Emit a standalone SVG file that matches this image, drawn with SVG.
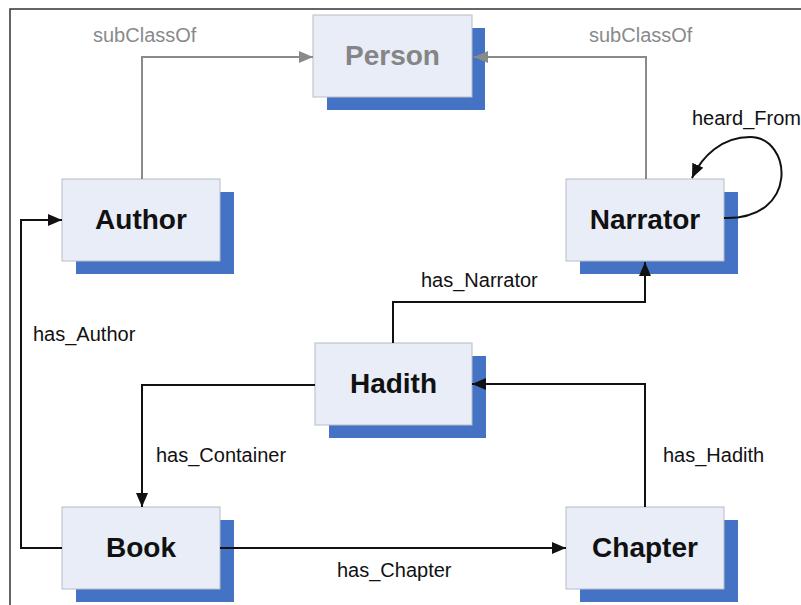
<svg xmlns="http://www.w3.org/2000/svg" width="801" height="605" viewBox="0 0 801 605">
<defs>
<style>
.shadow{fill:#4472c4}
.box{fill:#e8edf7;stroke:#b8bcc4;stroke-width:1}
.lbl{font-family:"Liberation Sans",Arial,sans-serif;font-weight:bold;font-size:28px;fill:#111;text-anchor:middle}
.lbl.gray{fill:#858585}
.edge{fill:none;stroke:#111;stroke-width:2}
.edge.gray{stroke:#8a8a8a}
.elbl{font-family:"Liberation Sans",Arial,sans-serif;font-size:20px;fill:#111}
.elbl.gray{fill:#8a8a8a}
</style>
<marker id="ah" markerUnits="userSpaceOnUse" markerWidth="14" markerHeight="12" refX="14" refY="6" orient="auto">
<path d="M0,0 L14,6 L0,12 z" fill="#111"/>
</marker>
<marker id="ahg" markerUnits="userSpaceOnUse" markerWidth="14" markerHeight="12" refX="14" refY="6" orient="auto">
<path d="M0,0 L14,6 L0,12 z" fill="#8a8a8a"/>
</marker>
</defs>
<rect width="801" height="605" fill="#fff"/>
<path d="M10,605 V9 H801" fill="none" stroke="#333" stroke-width="1.5"/>

<g id="Person">
<rect class="shadow" x="327" y="28" width="158" height="82"/>
<rect class="box" x="313" y="15" width="159" height="82"/>
<text class="lbl gray" x="392.5" y="65">Person</text>
</g>
<g id="Author">
<rect class="shadow" x="76" y="192" width="158" height="82"/>
<rect class="box" x="62" y="179" width="158" height="82"/>
<text class="lbl" x="141" y="229">Author</text>
</g>
<g id="Narrator">
<rect class="shadow" x="580" y="192" width="158" height="82"/>
<rect class="box" x="566" y="179" width="158" height="82"/>
<text class="lbl" x="645" y="229">Narrator</text>
</g>
<g id="Hadith">
<rect class="shadow" x="329" y="356" width="157" height="82"/>
<rect class="box" x="315" y="343" width="157" height="82"/>
<text class="lbl" x="393.5" y="393">Hadith</text>
</g>
<g id="Book">
<rect class="shadow" x="76" y="520" width="158" height="82"/>
<rect class="box" x="62" y="507" width="158" height="82"/>
<text class="lbl" x="141" y="557">Book</text>
</g>
<g id="Chapter">
<rect class="shadow" x="580" y="520" width="158" height="82"/>
<rect class="box" x="566" y="507" width="158" height="82"/>
<text class="lbl" x="645" y="557">Chapter</text>
</g>

<g id="connectors">
<path class="edge gray" d="M142,179 V57 H313" marker-end="url(#ahg)"/>
<path class="edge gray" d="M646,179 V57 H474" marker-end="url(#ahg)"/>
<path class="edge" d="M724,218 C800,220 792,137 750,137 C722,137 702,156 692,178" marker-end="url(#ah)"/>
<path class="edge" d="M393,343 V302 H645 V262" marker-end="url(#ah)"/>
<path class="edge" d="M315,385 H142 V507" marker-end="url(#ah)"/>
<path class="edge" d="M645,507 V384 H472" marker-end="url(#ah)"/>
<path class="edge" d="M220,548 H566" marker-end="url(#ah)"/>
<path class="edge" d="M62,548 H21 V220 H62" marker-end="url(#ah)"/>
<text class="elbl gray" x="93" y="42">subClassOf</text>
<text class="elbl gray" x="589" y="42">subClassOf</text>
<text class="elbl" x="692" y="125">heard_From</text>
<text class="elbl" x="421" y="287">has_Narrator</text>
<text class="elbl" x="156" y="462">has_Container</text>
<text class="elbl" x="663" y="462">has_Hadith</text>
<text class="elbl" x="337" y="577">has_Chapter</text>
<text class="elbl" x="33" y="341">has_Author</text>
</g>
</svg>
